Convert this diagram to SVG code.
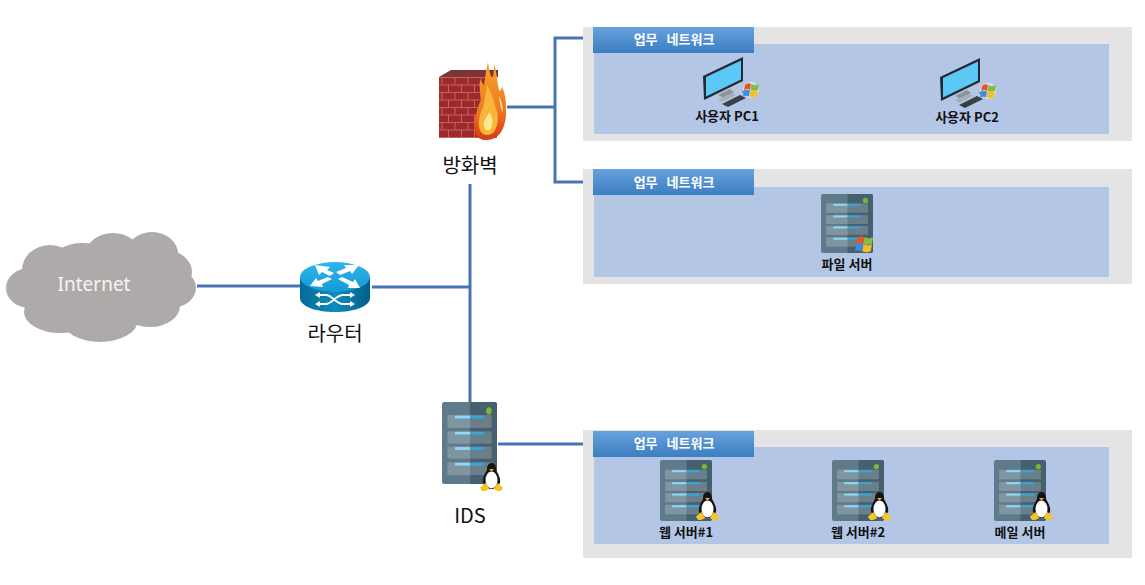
<svg xmlns="http://www.w3.org/2000/svg" width="1145" height="585" viewBox="0 0 1145 585">
<style>
text{font-family:"Noto Sans CJK KR","Noto Sans",sans-serif;text-anchor:middle}
.zone{fill:#e5e4e5}.inner{fill:#b3c6e5}.head{fill:url(#hd)}
.ht{font-size:13px;font-weight:700;fill:#fff;word-spacing:6px}
.lb{font-size:13px;font-weight:700;fill:#111}
.big{font-size:20px;fill:#111}
.wire{fill:none;stroke:#4a72b6;stroke-width:3}
</style>
<defs>
<linearGradient id="hd" x1="0" y1="0" x2="0" y2="1"><stop offset="0" stop-color="#66a2de"/><stop offset="1" stop-color="#3c7ebf"/></linearGradient>
<linearGradient id="rt" x1="0" y1="0" x2="1" y2="0"><stop offset="0" stop-color="#036a96"/><stop offset="0.5" stop-color="#0f8cbc"/><stop offset="1" stop-color="#035f88"/></linearGradient>
<linearGradient id="rtop" x1="0" y1="0" x2="0" y2="1"><stop offset="0" stop-color="#2fb4ee"/><stop offset="1" stop-color="#149ad4"/></linearGradient>
<linearGradient id="flame" x1="0" y1="0" x2="0" y2="1"><stop offset="0" stop-color="#f6a72a"/><stop offset="0.6" stop-color="#ee7a22"/><stop offset="1" stop-color="#d63a14"/></linearGradient>
<pattern id="brick" width="13" height="15" patternUnits="userSpaceOnUse" x="439" y="77">
<rect width="13" height="15" fill="#9c2a2c"/>
<path d="M0 .5H13M0 8H13M3 0V7.500M9.500 7.500V15" stroke="#c9625c" stroke-width="1" fill="none"/>
</pattern>
<symbol id="server" viewBox="0 0 51 60" preserveAspectRatio="none">
<rect width="51" height="60" rx="2" fill="#5f7b8a"/>
<path d="M26 0H49a2 2 0 0 1 2 2V58a2 2 0 0 1-2 2H26Z" fill="#46606f"/>
<g fill="#fff" fill-opacity=".2"><rect x="5" y="9.500" width="41" height="9.500"/><rect x="5" y="21.500" width="41" height="9"/><rect x="5" y="32.500" width="41" height="9"/><rect x="5" y="44" width="41" height="9.500"/></g>
<g fill="#8fd8f6"><rect x="12" y="10" width="14" height="2"/><rect x="12" y="21.800" width="14" height="2"/><rect x="12" y="33" width="14" height="2"/><rect x="12" y="44.500" width="14" height="2"/></g>
<g fill="#35a6da"><rect x="26" y="10" width="13" height="2"/><rect x="26" y="21.800" width="13" height="2"/><rect x="26" y="33" width="13" height="2"/><rect x="26" y="44.500" width="13" height="2"/></g>
<circle cx="43.500" cy="6.500" r="2.600" fill="#74bb2e"/>
</symbol>
<symbol id="tux" viewBox="0 0 23 28">
<path d="M11.500 0C7.500 0 7 4 7 7C5 11 2 15 3 20L20 20C21 15 18 11 16 7C16 4 15.500 0 11.500 0Z" fill="#141414"/>
<path d="M3 18C3 24 8 26 11.500 26S20 24 20 18L16 10H7Z" fill="#141414"/>
<ellipse cx="11.500" cy="17" rx="6" ry="8.500" fill="#fff"/>
<path d="M9 6h5l-2.500 2.500z" fill="#f5b81e"/>
<path d="M0 24.500L5.500 20L9.500 26L4 28.500Q1 28 0 24.500ZM23 24.500L17.500 20L13.500 26L19 28.500Q22 28 23 24.500Z" fill="#f7c51f"/>
</symbol>
<symbol id="win" viewBox="0 0 16 16">
<path d="M2 3Q5 0 8 2L7 8Q4 6 1 8Z" fill="#e8532b"/>
<path d="M8.500 2Q12 4 16 2L15 8Q11 9.500 7.500 8Z" fill="#86bd3e"/>
<path d="M1 8.500Q4 7 7 8.500L6 14.500Q3 13 0 14.500Z" fill="#3c8fdc"/>
<path d="M7.500 8.500Q11 10 15 8.500L14 14.500Q10 16 6.500 14.500Z" fill="#f5c026"/>
</symbol>
<symbol id="pc" viewBox="0 0 58 50">
<path d="M1 19 L41 0 V24 L2 43 Z" fill="#23292e"/>
<path d="M4 20 L39 3.500 V22.500 L4 39.500 Z" fill="#5bc8f5"/>
<path d="M16 38 L28 32 L32 35 L22 41Z" fill="#8b9499"/>
<path d="M16 42 L30 36 L34 38 L20 45Z" fill="#a8b0b5"/>
<path d="M20 47 L38 38 L44 41 L26 50Z" fill="#3a4045"/>
<path d="M42 33 L47 36 L45 38 L40 35Z" fill="#3a4045"/>
<circle cx="49" cy="33" r="8" fill="#fff" fill-opacity=".5"/>
<use href="#win" x="41" y="25" width="16" height="16"/>
</symbol>
</defs>

<g id="connectors">
<path class="wire" d="M197 286H300"/>
<path class="wire" d="M372 287H470"/>
<path class="wire" d="M470 184V402"/>
<path class="wire" d="M507 107H555"/>
<path class="wire" d="M593 38H555V182H593"/>
<path class="wire" d="M498 444H593"/>
</g>

<g id="zone-1">
<rect class="zone" x="583" y="27" width="549" height="114"/>
<rect class="inner" x="594" y="44" width="515" height="90"/>
<rect class="head" x="593" y="27" width="161" height="26"/>
<text class="ht" x="674" y="44">업무 네트워크</text>
</g>
<g id="zone-2">
<rect class="zone" x="583" y="169" width="549" height="115"/>
<rect class="inner" x="594" y="187" width="515" height="90"/>
<rect class="head" x="593" y="169" width="161" height="26"/>
<text class="ht" x="674" y="187">업무 네트워크</text>
</g>
<g id="zone-3">
<rect class="zone" x="583" y="430" width="549" height="128"/>
<rect class="inner" x="594" y="447" width="515" height="97"/>
<rect class="head" x="593" y="431" width="161" height="26"/>
<text class="ht" x="674" y="448">업무 네트워크</text>
</g>

<g id="internet">
<g fill="#aeaaa9">
<ellipse cx="50" cy="270" rx="28" ry="25"/><ellipse cx="82" cy="262" rx="30" ry="19"/><ellipse cx="113" cy="256" rx="28" ry="23"/><ellipse cx="152" cy="254" rx="26" ry="22"/><ellipse cx="168" cy="272" rx="24" ry="21"/><ellipse cx="170" cy="288" rx="26" ry="20"/><ellipse cx="150" cy="306" rx="30" ry="21"/><ellipse cx="100" cy="320" rx="38" ry="22"/><ellipse cx="60" cy="312" rx="36" ry="21"/><ellipse cx="30" cy="288" rx="24" ry="20"/><ellipse cx="100" cy="286" rx="70" ry="36"/>
</g>
<text x="94" y="291" style="font-size:19px;font-family:'Noto Sans',sans-serif" fill="#f4f4f4">Internet</text>
</g>

<g id="router">
<path d="M300 277V298C300 306 315 312 335 312S370 306 370 298V277Z" fill="url(#rt)"/>
<ellipse cx="335" cy="277" rx="35" ry="15" fill="url(#rtop)"/>
<g fill="#fff">
<path d="M315 265L330 267L327 270L334 273L330 276L322 272L319 275Z"/>
<path d="M359 265L344 265L346 268L336 272L340 275L350 271L352 274Z"/>
<path d="M310 286L323 287L322 284L332 279L328 277L318 281L316 278Z"/>
<path d="M360 288L348 288L349 285L338 279L342 277L353 282L355 279Z"/>
</g>
<path d="M320 295h6c6 0 10 9 17 9h7M320 304h6c6 0 10-9 17-9h7" fill="none" stroke="#fff" stroke-width="1.800"/>
<path d="M350 292l5 3-5 3zM350 301l5 3-5 3zM320 292l-5 3 5 3zM320 301l-5 3 5 3z" fill="#fff"/>
<text class="big" x="335" y="341">라우터</text>
</g>

<g id="firewall">
<path d="M439 77L451 70H498V77Z" fill="#7d3532"/>
<rect x="439" y="77" width="58" height="61" fill="url(#brick)"/>
<path d="M488 62C489 68 489 72 492 78C494 76 494 70 494 64C497 72 497 82 499 90C501 92 502 88 502 86C505 94 506 100 506 106C507 122 503 140 486 140C476 140 472 132 475 118C477 110 478 106 481 100C480 92 479 86 480 80C482 82 483 84 484 86C485 78 486 70 488 62Z" fill="url(#flame)"/>
<path d="M487 84C490 92 494 98 495 106C499 114 499 124 494 132C490 136 484 136 481 132C477 126 479 114 483 108C485 100 486 92 487 84Z" fill="#f9b53a"/>
<path d="M489 112C493 116 494 124 490 130C486 132 483 128 484 122C485 118 488 116 489 112Z" fill="#fde98f"/>
<path d="M499 96C501 100 503 106 503 112C501 110 500 104 499 96Z" fill="#fde98f"/>
<text class="big" x="470" y="173">방화벽</text>
</g>

<g id="ids">
<use href="#server" x="442" y="402" width="55" height="82"/>
<use href="#tux" x="480" y="463" width="23" height="28"/>
<text class="big" x="470" y="523">IDS</text>
</g>

<g id="pc1">
<use href="#pc" x="702" y="57" width="58" height="50"/>
<text class="lb" x="727" y="121">사용자 PC1</text>
</g>
<g id="pc2">
<use href="#pc" x="939" y="58" width="58" height="50"/>
<text class="lb" x="967" y="122">사용자 PC2</text>
</g>
<g id="file-server">
<use href="#server" x="821" y="194" width="52" height="59"/>
<use href="#win" x="855" y="235" width="18" height="18"/>
<text class="lb" x="847" y="269">파일 서버</text>
</g>
<g id="web1">
<use href="#server" x="660" y="460" width="52" height="61"/>
<use href="#tux" x="696" y="492" width="23" height="28"/>
<text class="lb" x="686" y="537">웹 서버#1</text>
</g>
<g id="web2">
<use href="#server" x="832" y="460" width="52" height="61"/>
<use href="#tux" x="868" y="492" width="23" height="28"/>
<text class="lb" x="858" y="537">웹 서버#2</text>
</g>
<g id="mail">
<use href="#server" x="994" y="460" width="52" height="61"/>
<use href="#tux" x="1030" y="492" width="23" height="28"/>
<text class="lb" x="1020" y="537">메일 서버</text>
</g>
</svg>
